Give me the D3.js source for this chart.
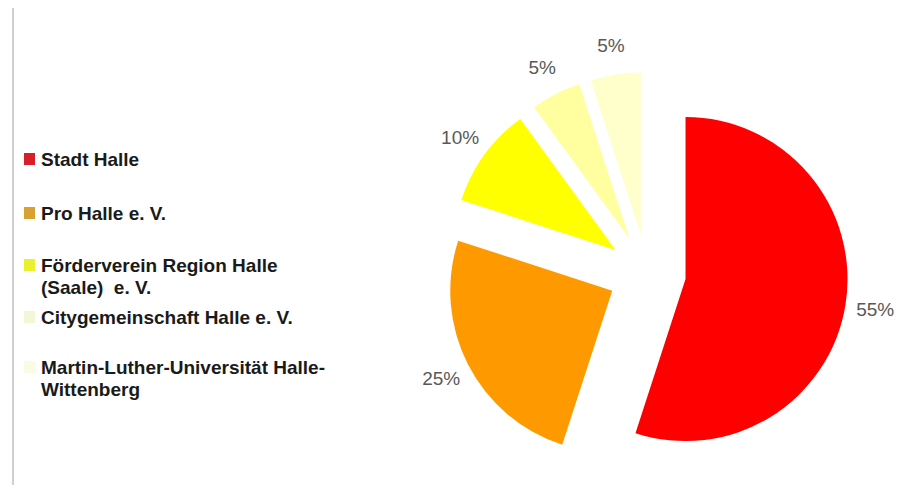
<!DOCTYPE html>
<html>
<head>
<meta charset="utf-8">
<script src="https://cdn.jsdelivr.net/npm/d3@7"></script>
<style>
  body { margin: 0; background: #fff; }
  svg { display: block; font-family: "Liberation Sans", Arial, sans-serif; }
  .leg text { white-space: pre; }
</style>
</head>
<body>
<div id="chart"></div>
<script>
// data
var categories = ["Stadt Halle", "Pro Halle e. V.", "Förderverein Region Halle (Saale)  e. V.",
                  "Citygemeinschaft Halle e. V.", "Martin-Luther-Universität Halle-Wittenberg"];
var legendLines = [["Stadt Halle"], ["Pro Halle e. V."], ["Förderverein Region Halle", "(Saale)  e. V."],
                   ["Citygemeinschaft Halle e. V."], ["Martin-Luther-Universität Halle-", "Wittenberg"]];
var shares = [55, 25, 10, 5, 5];

var sliceColors = ["#ff0000", "#ff9900", "#ffff00", "#ffffa0", "#ffffcc"];
var swatchColors = ["#d91e2b", "#d9a032", "#e9f02e", "#f4f7d6", "#fafbe2"];

var W = 898, H = 490;
var cx = 647, cy = 273, radius = 162, explode = 39, labelR = 231;
var legendX = 41, legendTop = [166, 220, 272, 324, 374], lineH = 22;

var svg = d3.select("#chart").append("svg").attr("width", W).attr("height", H);

// thin frame line on the left
svg.append("line")
    .attr("x1", 13).attr("x2", 13).attr("y1", 8).attr("y2", 485)
    .attr("stroke", "#cfcfcf").attr("stroke-width", 2);

var pie = d3.pie().sort(null).value(function(d) { return d; });
var arc = d3.arc().innerRadius(0).outerRadius(radius);
var arcs = pie(shares);

function dir(a) { return [Math.sin(a), -Math.cos(a)]; }

var g = svg.append("g").attr("transform", "translate(" + cx + "," + cy + ")");

g.selectAll("path.slice")
    .data(arcs)
  .enter().append("path")
    .attr("class", "slice")
    .attr("d", arc)
    .attr("fill", function(d, i) { return sliceColors[i]; })
    .attr("transform", function(d) {
        var v = dir((d.startAngle + d.endAngle) / 2);
        return "translate(" + v[0] * explode + "," + v[1] * explode + ")";
    });

g.selectAll("text.pct")
    .data(arcs)
  .enter().append("text")
    .attr("class", "pct")
    .attr("x", function(d) { return dir((d.startAngle + d.endAngle) / 2)[0] * labelR; })
    .attr("y", function(d) { return dir((d.startAngle + d.endAngle) / 2)[1] * labelR; })
    .attr("dy", "0.35em")
    .attr("text-anchor", "middle")
    .attr("fill", "#595959")
    .style("font-size", "19px")
    .text(function(d) { return d.data + "%"; });

// legend
var leg = svg.selectAll("g.leg")
    .data(categories)
  .enter().append("g")
    .attr("class", "leg");

leg.append("rect")
    .attr("x", 24).attr("width", 11).attr("height", 12)
    .attr("y", function(d, i) { return legendTop[i] - 13; })
    .attr("fill", function(d, i) { return swatchColors[i]; });

leg.each(function(d, i) {
    var t = d3.select(this).append("text")
        .attr("x", legendX).attr("y", legendTop[i])
        .attr("fill", "#1a1a1a")
        .style("font-size", "19px")
        .style("font-weight", "bold");
    legendLines[i].forEach(function(line, k) {
        t.append("tspan").attr("x", legendX).attr("y", legendTop[i] + k * lineH).text(line);
    });
});
</script>
</body>
</html>
